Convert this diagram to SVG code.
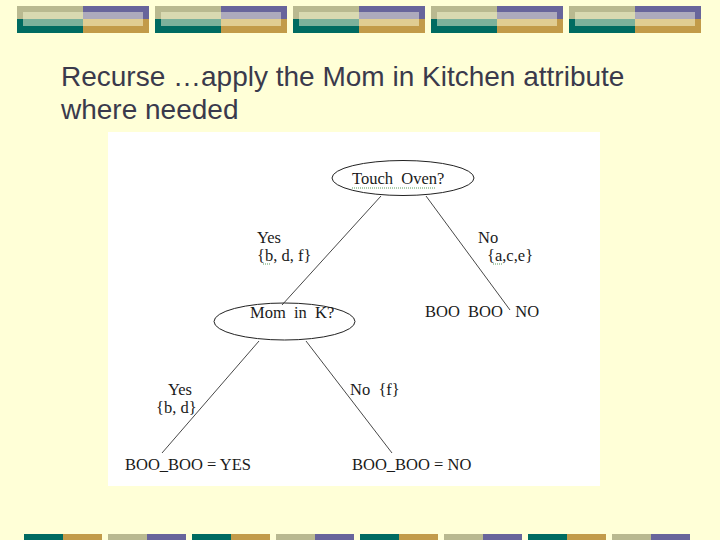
<svg xmlns="http://www.w3.org/2000/svg" width="720" height="540" viewBox="0 0 720 540">
<defs>
<style>
.t{font-family:"Liberation Serif","Times New Roman",serif;font-size:16.5px;fill:#1a1a1a;white-space:pre}
.title{font-family:"Liberation Sans",Arial,sans-serif;font-size:28px;fill:#3a3a4c}
.edge{stroke:#333;stroke-width:0.9;fill:none}
.node{fill:none;stroke:#222;stroke-width:1}
.sq{stroke:#5a9a5a;stroke-width:1;stroke-dasharray:1 1;fill:none}
</style>
<g id="blk">
<rect x="0" y="0" width="66" height="13" fill="#b9b990"/>
<rect x="66" y="0" width="66" height="13" fill="#68659b"/>
<rect x="0" y="13" width="66" height="14" fill="#006b61"/>
<rect x="66" y="13" width="66" height="14" fill="#c29b49"/>
<rect x="6" y="6" width="60" height="7" fill="#d9d9b1"/>
<rect x="66" y="6" width="60" height="7" fill="#adaabc"/>
<rect x="6" y="13" width="60" height="7" fill="#7cb19b"/>
<rect x="66" y="13" width="60" height="7" fill="#e0cd92"/>
</g>
<g id="bar">
<rect x="0" y="0" width="39" height="6" fill="#006b61"/>
<rect x="39" y="0" width="39" height="6" fill="#c29b49"/>
<rect x="84" y="0" width="39" height="6" fill="#b9b990"/>
<rect x="123" y="0" width="39" height="6" fill="#68659b"/>
</g>
</defs>
<rect x="0" y="0" width="720" height="540" fill="#ffffd7"/>
<g id="header-deco">
<use href="#blk" x="17" y="6"/>
<use href="#blk" x="155" y="6"/>
<use href="#blk" x="293" y="6"/>
<use href="#blk" x="431" y="6"/>
<use href="#blk" x="569" y="6"/>
</g>
<g id="footer-deco">
<use href="#bar" x="24" y="534"/>
<use href="#bar" x="192" y="534"/>
<use href="#bar" x="360" y="534"/>
<use href="#bar" x="528" y="534"/>
</g>
<g id="title">
<text class="title" x="61" y="86">Recurse …apply the Mom in Kitchen attribute</text>
<text class="title" x="61" y="119">where needed</text>
</g>
<rect x="108" y="132" width="492" height="354" fill="#ffffff"/>
<g id="connectors">
<line class="edge" x1="381" y1="196" x2="282" y2="305"/>
<line class="edge" x1="426" y1="196" x2="510" y2="310"/>
<line class="edge" x1="259" y1="341" x2="162" y2="453"/>
<line class="edge" x1="306" y1="341" x2="392" y2="453"/>
</g>
<g id="node-touch-oven">
<ellipse class="node" cx="403" cy="178" rx="71" ry="17.5"/>
<text class="t" x="352" y="184">Touch  Oven?</text>
<path class="sq" d="M352 188 H436"/>
</g>
<g id="label-yes1">
<text class="t" x="257" y="243">Yes</text>
<text class="t" x="257" y="261">{b, d, f}</text>
<path class="sq" d="M263 264 H270"/>
</g>
<g id="label-no1">
<text class="t" x="478" y="243">No</text>
<text class="t" x="487" y="261">{a,c,e}</text>
<path class="sq" d="M493 264 H503"/>
</g>
<g id="node-mom">
<ellipse class="node" cx="284.5" cy="321.5" rx="70.5" ry="18.5"/>
<text class="t" x="250" y="318">Mom  in  K?</text>
</g>
<g id="leaf-boo-no">
<text class="t" x="425" y="317">BOO  BOO   NO</text>
</g>
<g id="label-yes2">
<text class="t" x="168" y="395">Yes</text>
<text class="t" x="156" y="413">{b, d}</text>
</g>
<g id="label-no2">
<text class="t" x="350" y="395">No  {f}</text>
</g>
<g id="leaf-yes">
<text class="t" x="125" y="470">BOO_BOO = YES</text>
</g>
<g id="leaf-no">
<text class="t" x="352" y="470">BOO_BOO = NO</text>
</g>
</svg>
